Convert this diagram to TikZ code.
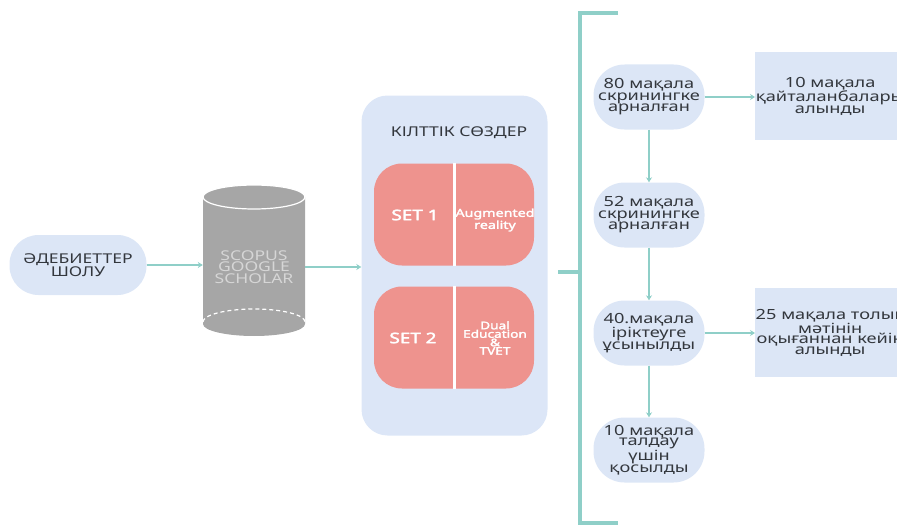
\documentclass[tikz,border=0pt]{standalone}
\usepackage{fontspec}
\setmainfont{Noto Sans}
\newfontfamily\wfont[FakeStretch=1.3]{Noto Sans}
\newfontfamily\wbfont[FakeStretch=1.3, FakeBold=2.5]{Noto Sans}
\usetikzlibrary{arrows.meta}
\definecolor{pillc}{HTML}{DCE6F6}
\definecolor{panelc}{HTML}{DCE6F7}
\definecolor{salmon}{HTML}{EE938E}
\definecolor{teal}{HTML}{8FCFC8}
\definecolor{dbgrey}{HTML}{A6A6A6}
\definecolor{dblight}{HTML}{D6D6D6}
\definecolor{txt}{HTML}{33373D}
\tikzset{
  pillbox/.style={fill=pillc, rounded corners=31pt, minimum width=111pt, minimum height=65pt,
    inner sep=0pt, align=center, text=txt, font=\wfont\fontsize{14}{11.5}\selectfont},
  rectbox/.style={fill=pillc, minimum width=150pt, minimum height=88pt,
    inner sep=0pt, align=center, text=txt, font=\wfont\fontsize{14}{11.5}\selectfont},
  setbox/.style={fill=salmon, rounded corners=28pt, minimum width=160pt, minimum height=102pt, inner sep=0pt},
  settxt/.style={text=white, align=center, inner sep=0pt},
  conn/.style={draw=teal, line width=1.5pt, -{Stealth[length=5pt,width=6pt]}},
  brk/.style={draw=teal, line width=3.3pt},
}
\begin{document}
\begin{tikzpicture}[x=1pt,y=-1pt]
\useasboundingbox (0,0) rectangle (897,527);
\clip (0,0) rectangle (897,527);

% literature review
\node[pillbox, minimum width=137pt, minimum height=60pt, rounded corners=29pt,
  font=\wfont\fontsize{13.5}{11.5}\selectfont] (lit) at (78,265) {ӘДЕБИЕТТЕР\\ШОЛУ};

% database cylinder
\fill[dbgrey] (203,197) -- (203,324) arc (180:0:51 and 12) -- (305,197) arc (0:-180:51 and 12) -- cycle;
\draw[white, line width=1.2pt] (254,197) ellipse (51 and 12);
\draw[white, line width=1.2pt, dash pattern=on 4pt off 3pt] (203,322) arc (180:360:51 and 13);
\node[minimum width=102pt, minimum height=140pt, inner sep=0pt, align=center, text=dblight,
  font=\wfont\fontsize{13.5}{11.5}\selectfont] (db) at (254,267) {SCOPUS\\GOOGLE\\SCHOLAR};

% keywords panel
\node[fill=panelc, rounded corners=26pt, minimum width=186pt, minimum height=340pt, inner sep=0pt] (panel) at (454.5,265.5) {};
\node[text=txt, inner sep=0pt, font=\wfont\fontsize{13.5}{14}\selectfont] (title) at (459,133) {КІЛТТІК СӨЗДЕР};

\node[setbox] (s1) at (454,214.5) {};
\node[setbox] (s2) at (454,337.5) {};
\draw[white, line width=3pt] (s1.north) -- (s1.south);
\draw[white, line width=3pt] (s2.north) -- (s2.south);
\node[settxt, font=\wbfont\fontsize{14.5}{14}\selectfont] (s1l) at (415,215) {SET 1};
\node[settxt, font=\wbfont\fontsize{11}{7.5}\selectfont] (s1r) at (495,220) {Augmented\\reality};
\node[settxt, font=\wbfont\fontsize{14.5}{14}\selectfont] (s2l) at (413,338) {SET 2};
\node[settxt, font=\wbfont\fontsize{10.5}{8.5}\selectfont] (s2r) at (495,338) {Dual\\Education\\\&\\TVET};

% bracket
\draw[brk] (618,13) -- (580,13) -- (580,523) -- (618,523);
\draw[brk] (558,272) -- (580,272);

% flow
\node[pillbox] (n1) at (649,97) {80 мақала\\скринингке\\арналған};
\node[pillbox] (n2) at (649,215) {52 мақала\\скринингке\\арналған};
\node[pillbox] (n3) at (649,333) {40.мақала\\іріктеуге\\ұсынылды};
\node[pillbox, font=\wfont\fontsize{14}{10.5}\selectfont] (n4) at (649,450) {10 мақала\\талдау\\үшін\\қосылды};
\node[rectbox, anchor=west] (r1) at (755,96) {10 мақала\\қайталанбалары\\алынды};
\node[rectbox, anchor=west, minimum height=89pt, font=\wfont\fontsize{14}{10.5}\selectfont] (r2) at (755,332.5) {25 мақала толық\\мәтінін\\оқығаннан кейін\\алынды};

% connectors
\draw[conn] (lit.east) -- (lit.east -| db.west);
\draw[conn] (db.east) -- (db.east -| panel.west);
\draw[conn] (n1.east) -- (n1.east -| r1.west);
\draw[conn] (n3.east) -- (n3.east -| r2.west);
\draw[conn] (n1.south) -- (n2.north);
\draw[conn] (n2.south) -- (n3.north);
\draw[conn] (n3.south) -- (n4.north);
\end{tikzpicture}
\end{document}
